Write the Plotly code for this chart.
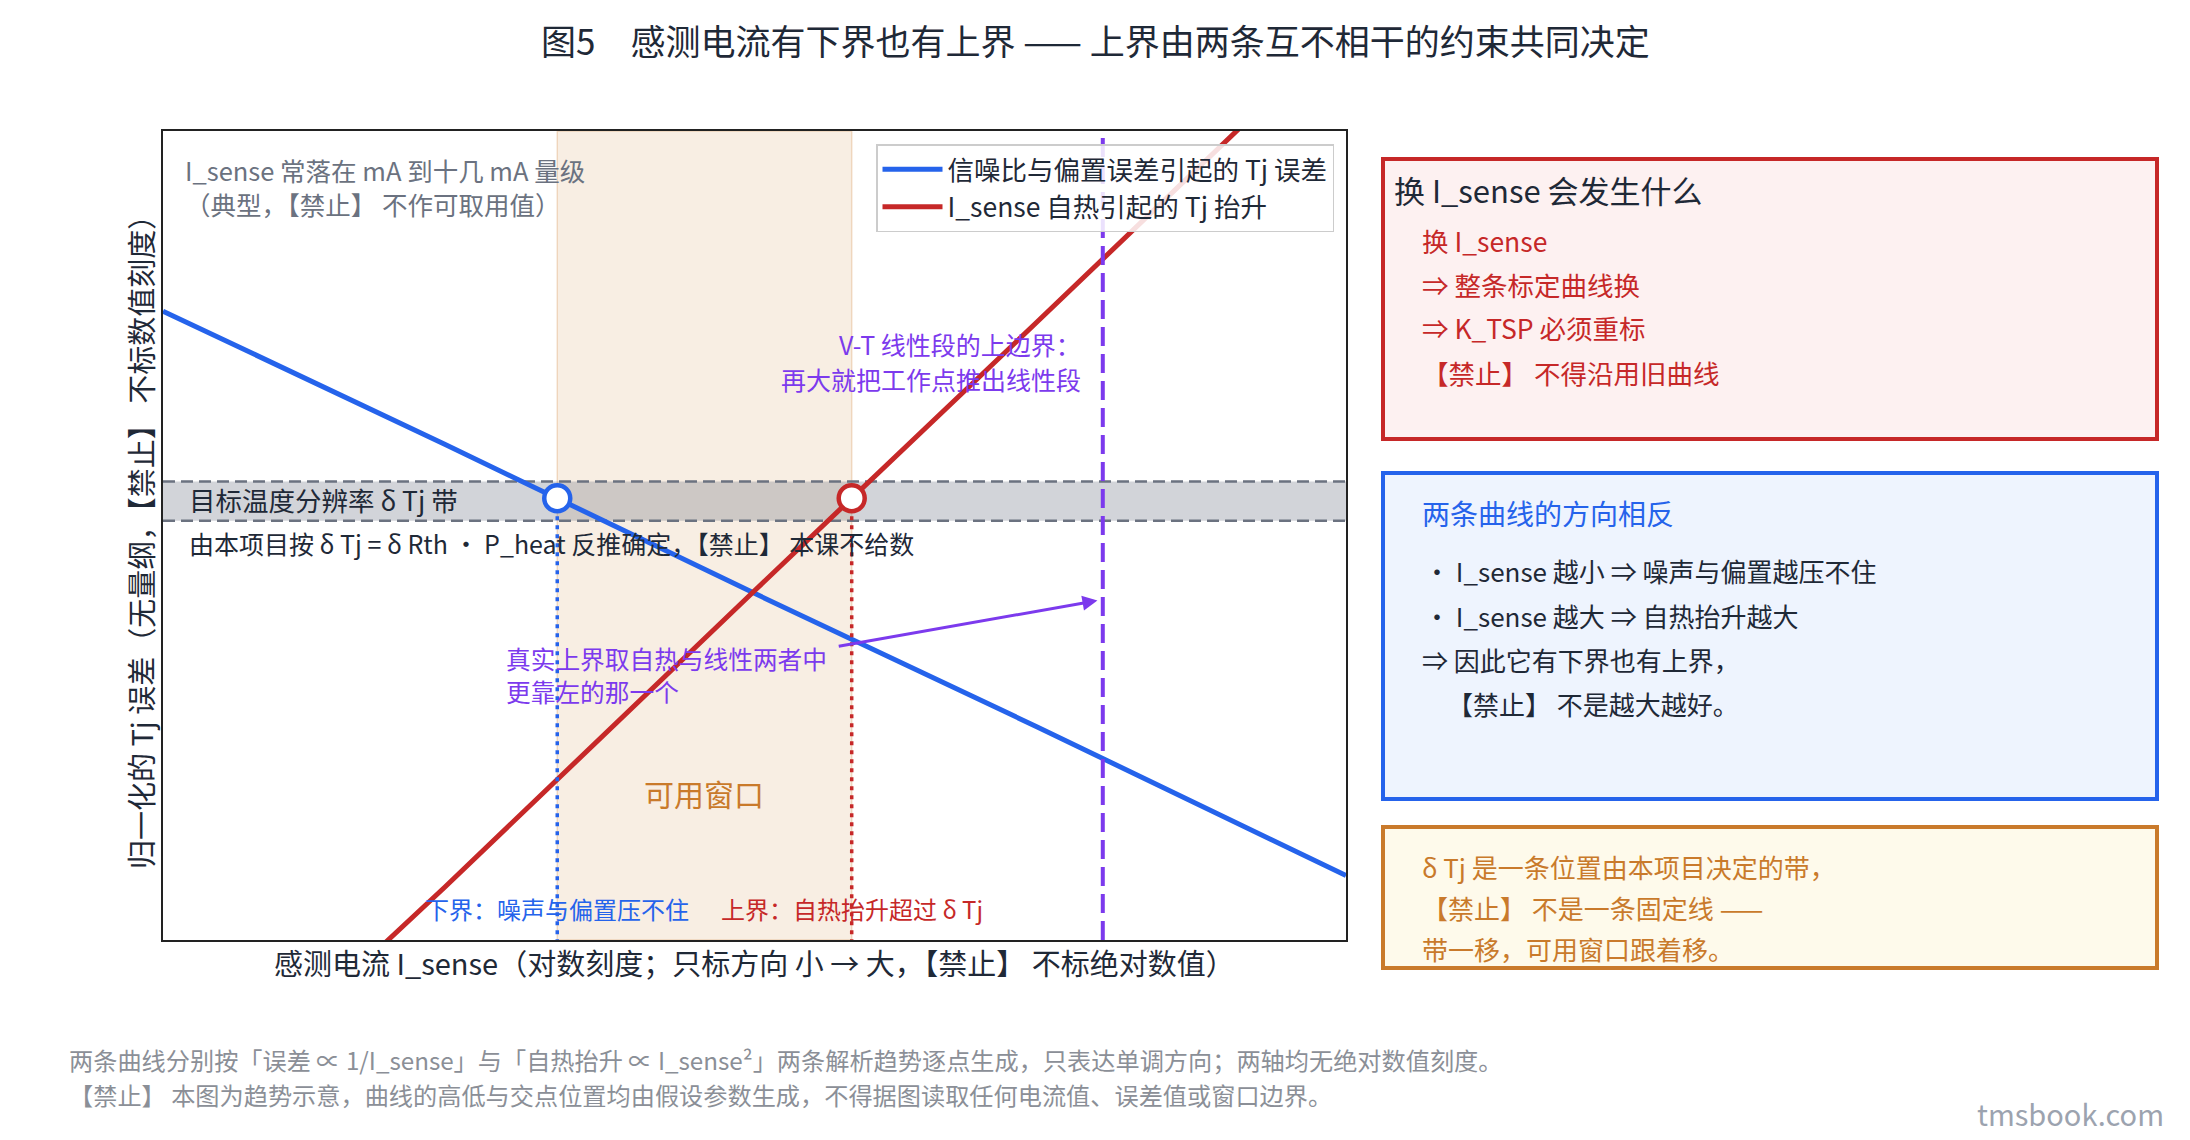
import math
import plotly.graph_objects as go

# ---------------- data (relative units; log-log) ----------------
current_noise = [0.1, 0.3, 1.0, 3.0, 10.0]
err_noise = [4.6, 1.55, 0.46, 0.155, 0.046]
current_heat = [0.2, 0.3, 1.0, 3.0, 10.0]
rise_heat = [0.019, 0.042, 0.47, 4.2, 47.0]
series_names = ["信噪比与偏置误差引起的 Tj 误差", "I_sense 自热引起的 Tj 抬升"]

x_range = [0.1, 10.0]
y_range = [0.0272, 20.0]

band_lo, band_mid, band_hi = 0.832, 1.0, 1.145
x_lower = 0.464     # lower bound (noise)
x_upper = 1.46      # upper bound (self-heating)
x_vt = 3.88         # V-T linear-segment limit

arrow_tail = [1.38, 0.298]
arrow_head = [3.80, 0.434]

# ---------------- styles ----------------
FONT = "Noto Sans CJK SC, Noto Sans, sans-serif"
BLUE = "#2563eb"
RED = "#c62828"
PURPLE = "#7c3aed"
ORANGE = "#c97a2b"
GREY = "#6b7280"
DARK = "#1f2937"
FOOT = "#8b8f97"

FW, FH = 2190, 1140
L, T, W, H = 163, 131, 1183, 809


def px(x):
    return (x - L) / W


def py(y):
    return 1 - (y - T) / H


def txt(s, x, y, size, color, xanchor="left", xref="paper", yref="paper", angle=0):
    return dict(text=s, x=x, y=y, xref=xref, yref=yref, xanchor=xanchor,
                yanchor="middle", showarrow=False, textangle=angle,
                font=dict(size=size, color=color, family=FONT))


fig = go.Figure()

# usable window
fig.add_trace(go.Scatter(
    x=[x_lower, x_upper, x_upper, x_lower, x_lower],
    y=[y_range[0], y_range[0], y_range[1], y_range[1], y_range[0]],
    fill="toself", fillcolor="rgba(217,160,102,0.18)",
    line=dict(color="rgba(217,160,102,0.35)", width=1.5),
    mode="lines", showlegend=False, hoverinfo="skip"))

# target band
fig.add_trace(go.Scatter(
    x=[x_range[0], x_range[1], x_range[1], x_range[0], x_range[0]],
    y=[band_lo, band_lo, band_hi, band_hi, band_lo],
    fill="toself", fillcolor="rgba(107,114,128,0.30)",
    line=dict(width=0), mode="lines", showlegend=False, hoverinfo="skip"))
for yb in (band_lo, band_hi):
    fig.add_trace(go.Scatter(
        x=x_range, y=[yb, yb], mode="lines",
        line=dict(color=GREY, width=2.5, dash="12px,6px"),
        showlegend=False, hoverinfo="skip"))

# curves
fig.add_trace(go.Scatter(x=current_noise, y=err_noise, mode="lines",
                         name=series_names[0], line=dict(color=BLUE, width=5)))
fig.add_trace(go.Scatter(x=current_heat, y=rise_heat, mode="lines",
                         name=series_names[1], line=dict(color=RED, width=5)))

# bound verticals
fig.add_trace(go.Scatter(x=[x_lower, x_lower], y=[band_mid, y_range[0]], mode="lines",
                         line=dict(color=BLUE, width=3.5, dash="4px,5px"),
                         showlegend=False, hoverinfo="skip"))
fig.add_trace(go.Scatter(x=[x_upper, x_upper], y=[band_mid, y_range[0]], mode="lines",
                         line=dict(color=RED, width=3.5, dash="4px,5px"),
                         showlegend=False, hoverinfo="skip"))
fig.add_trace(go.Scatter(x=[x_vt, x_vt], y=y_range, mode="lines",
                         line=dict(color=PURPLE, width=4, dash="19px,8px"),
                         showlegend=False, hoverinfo="skip"))

# intersection markers
fig.add_trace(go.Scatter(x=[x_lower], y=[band_mid], mode="markers",
                         marker=dict(size=26, color="white", line=dict(color=BLUE, width=4.5)),
                         showlegend=False, hoverinfo="skip"))
fig.add_trace(go.Scatter(x=[x_upper], y=[band_mid], mode="markers",
                         marker=dict(size=26, color="white", line=dict(color=RED, width=4.5)),
                         showlegend=False, hoverinfo="skip"))

lx = math.log10
ann = []
# title
ann.append(txt("图5　感测电流有下界也有上界 —— 上界由两条互不相干的约束共同决定",
               px(1095), py(39), 35, DARK, xanchor="center"))
# axis titles
ann.append(txt("感测电流 I_sense（对数刻度；只标方向 小 → 大，【禁止】 不标绝对数值）",
               px(754), py(962), 29, DARK, xanchor="center"))
ann.append(txt("归一化的 Tj 误差（无量纲，【禁止】 不标数值刻度）",
               px(140), py(535), 29, DARK, xanchor="center", angle=-90))
# in-plot notes
ann.append(txt("I_sense 常落在 mA 到十几 mA 量级", px(183), py(169), 25.5, GREY))
ann.append(txt("（典型，【禁止】 不作可取用值）", px(183), py(203), 25.5, GREY))
ann.append(txt("目标温度分辨率 δ Tj 带", px(187), py(499), 26.5, DARK))
ann.append(txt("由本项目按 δ Tj = δ Rth · P_heat 反推确定，【禁止】 本课不给数",
               px(187), py(543), 25, DARK))
ann.append(txt("V-T 线性段的上边界：", px(1083), py(344), 25, PURPLE, xanchor="right"))
ann.append(txt("再大就把工作点推出线性段", px(1083), py(379), 25, PURPLE, xanchor="right"))
ann.append(txt("真实上界取自热与线性两者中", px(504), py(658), 24.7, PURPLE))
ann.append(txt("更靠左的那一个", px(504), py(691), 24.7, PURPLE))
ann.append(txt("可用窗口", (lx(x_lower) + lx(x_upper)) / 2, py(793), 30, ORANGE,
               xanchor="center", xref="x"))
ann.append(txt("下界：噪声与偏置压不住", lx(x_lower), py(908), 24, BLUE,
               xanchor="center", xref="x"))
ann.append(txt("上界：自热抬升超过 δ Tj", lx(x_upper), py(908), 24, RED,
               xanchor="center", xref="x"))
# arrow
ann.append(dict(x=lx(arrow_head[0]), y=lx(arrow_head[1]), xref="x", yref="y",
                ax=lx(arrow_tail[0]), ay=lx(arrow_tail[1]), axref="x", ayref="y",
                text="", showarrow=True, arrowhead=2, arrowsize=1, arrowwidth=3,
                arrowcolor=PURPLE, standoff=0, startstandoff=0))

# right-hand boxes
boxes = [
    ((1383, 159, 2157, 439), RED, "#fdf1f1"),
    ((1383, 473, 2157, 799), BLUE, "#eef4fe"),
    ((1383, 827, 2157, 968), ORANGE, "#fefaeb"),
]
shapes = []
for (x0, y0, x1, y1), lc, fc in boxes:
    shapes.append(dict(type="rect", xref="paper", yref="paper",
                       x0=px(x0), x1=px(x1), y0=py(y1), y1=py(y0),
                       line=dict(color=lc, width=4), fillcolor=fc, layer="below"))

ann.append(txt("换 I_sense 会发生什么", px(1392), py(190), 31, DARK))
box1_lines = ["换 I_sense", "⇒ 整条标定曲线换", "⇒ K_TSP 必须重标", "【禁止】 不得沿用旧曲线"]
for s, yy in zip(box1_lines, [240, 284, 327, 372]):
    ann.append(txt(s, px(1420), py(yy), 26.5, RED))

ann.append(txt("两条曲线的方向相反", px(1420), py(513), 28, BLUE))
box2_lines = [("・ I_sense 越小 ⇒ 噪声与偏置越压不住", 1422, 570),
              ("・ I_sense 越大 ⇒ 自热抬升越大", 1422, 615),
              ("⇒ 因此它有下界也有上界，", 1420, 659),
              ("【禁止】 不是越大越好。", 1445, 703)]
for s, xx, yy in box2_lines:
    ann.append(txt(s, px(xx), py(yy), 26, DARK))

box3_lines = ["δ Tj 是一条位置由本项目决定的带，", "【禁止】 不是一条固定线 ——", "带一移，可用窗口跟着移。"]
for s, yy in zip(box3_lines, [866, 907, 948]):
    ann.append(txt(s, px(1420), py(yy), 26, ORANGE))

# footer
ann.append(txt("两条曲线分别按「误差 ∝ 1/I_sense」与「自热抬升 ∝ I_sense²」两条解析趋势逐点生成，只表达单调方向；两轴均无绝对数值刻度。",
               px(67), py(1059), 24.2, FOOT))
ann.append(txt("【禁止】 本图为趋势示意，曲线的高低与交点位置均由假设参数生成，不得据图读取任何电流值、误差值或窗口边界。",
               px(67), py(1094), 24.2, FOOT))
ann.append(txt("tmsbook.com", px(2166), py(1113), 29, "#9ca3af", xanchor="right"))

axis_common = dict(type="log", showticklabels=False, ticks="", showgrid=False,
                   zeroline=False, showline=True, mirror=True, linecolor="#222222",
                   linewidth=2)
fig.update_layout(
    width=FW, height=FH,
    margin=dict(l=L, r=FW - L - W, t=T, b=FH - T - H),
    paper_bgcolor="white", plot_bgcolor="white",
    font=dict(family=FONT, color=DARK),
    xaxis=dict(range=[lx(x_range[0]), lx(x_range[1])], **axis_common),
    yaxis=dict(range=[lx(y_range[0]), lx(y_range[1])], **axis_common),
    showlegend=True,
    legend=dict(x=px(1334), y=py(144), xanchor="right", yanchor="top",
                bgcolor="rgba(255,255,255,0.85)", bordercolor="#cccccc", borderwidth=1.5,
                font=dict(size=26.5, color=DARK, family=FONT), itemwidth=60),
    annotations=ann,
    shapes=shapes,
)

fig.write_html("out.html", config={"displayModeBar": False},
               post_script="document.body.style.margin='0';")
